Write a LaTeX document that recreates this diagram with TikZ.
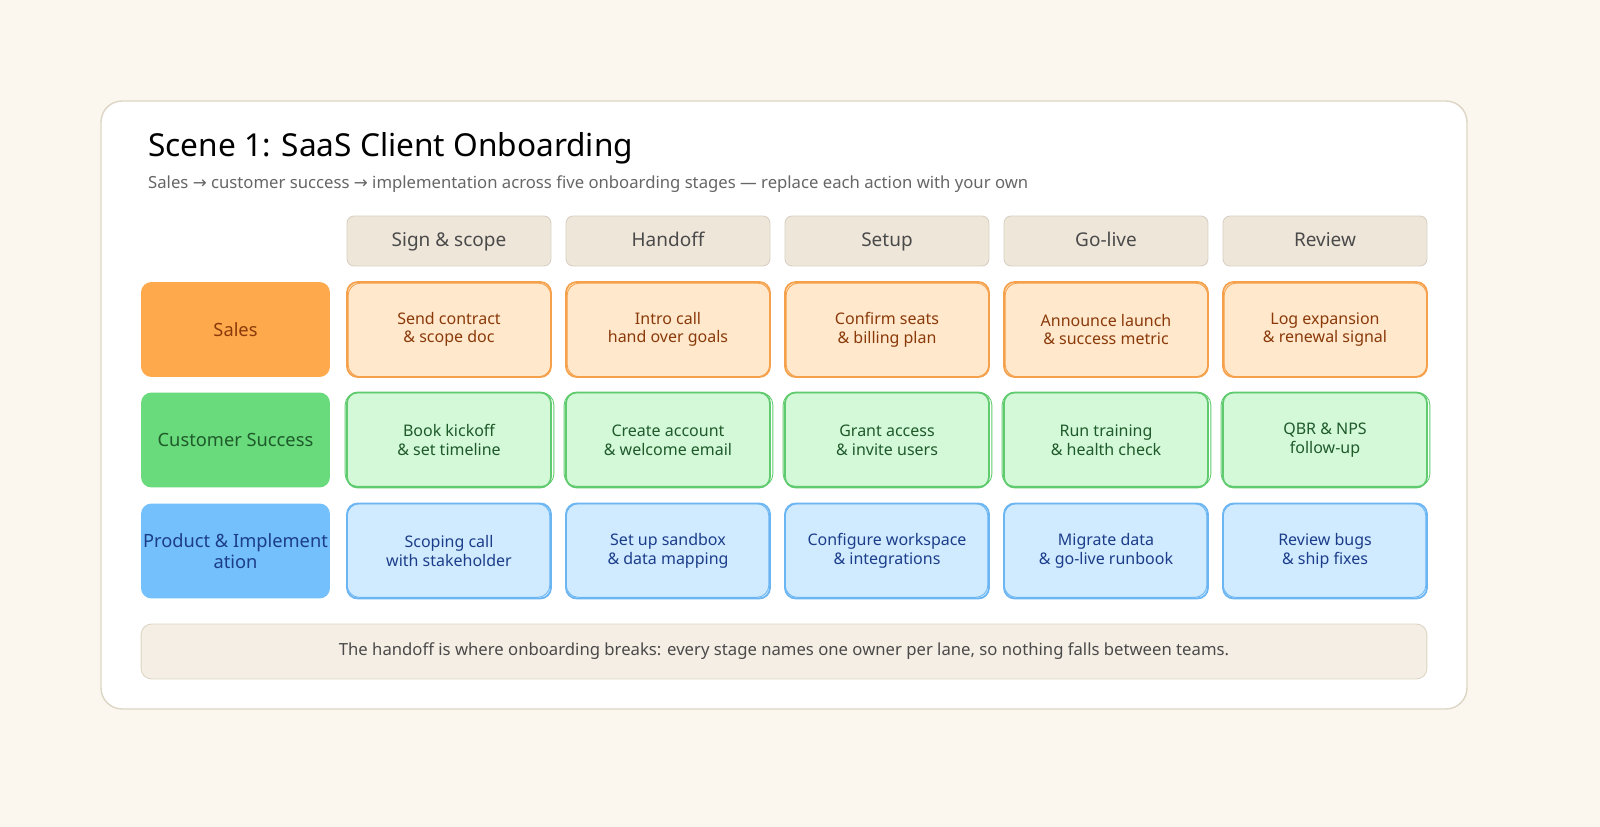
\documentclass[tikz,border=0pt]{standalone}
\usepackage{fontspec}
\setmainfont{Noto Sans}
\newfontfamily\arrowfont{DejaVu Sans}
\usetikzlibrary{positioning}
\definecolor{pagebg}{HTML}{FBF7EF}
\definecolor{cardline}{HTML}{DDD5C5}
\definecolor{headfill}{HTML}{EFE6DA}
\definecolor{headline}{HTML}{D8D0C3}
\definecolor{headtext}{HTML}{4A4A4A}
\definecolor{footfill}{HTML}{F5EEE4}
\definecolor{salesdark}{HTML}{FFA94D}
\definecolor{salesfill}{HTML}{FFE8CC}
\definecolor{salesline}{HTML}{F5A04A}
\definecolor{salestext}{HTML}{8A3A0A}
\definecolor{csdark}{HTML}{69DB7C}
\definecolor{csfill}{HTML}{D3F9D8}
\definecolor{csline}{HTML}{5FCB6E}
\definecolor{cstext}{HTML}{1F5A2A}
\definecolor{piddark}{HTML}{74C0FC}
\definecolor{pidfill}{HTML}{D0EBFF}
\definecolor{pidline}{HTML}{6BB5F2}
\definecolor{pidtext}{HTML}{1C3D8A}
\tikzset{
  lane/.style={rounded corners=6pt, minimum width=3.78cm, minimum height=1.9cm, inner sep=0pt, align=center, font=\fontsize{10.4}{12}\selectfont},
  head/.style={rounded corners=4pt, fill=headfill, draw=headline, line width=0.5pt, minimum width=4.08cm, minimum height=1cm, text height=1.6ex, text depth=0.4ex, text=headtext, font=\fontsize{10.8}{12}\selectfont},
  cell/.style={rounded corners=6pt, line width=1pt, minimum width=4.08cm, minimum height=1.9cm, align=center, font=\fontsize{9.1}{10.6}\selectfont}
}
\begin{document}
\begin{tikzpicture}[x=0.02cm,y=-0.02cm]
\fill[pagebg] (0,0) rectangle (1600,827);
\useasboundingbox (0,0) rectangle (1600,827);
\draw[cardline, fill=white, line width=0.8pt, rounded corners=12pt] (101,101) rectangle (1467,709);
\node[anchor=west, font=\fontsize{18}{20}\selectfont] (title) at (142,148) {Scene 1: SaaS Client Onboarding};
\node[anchor=west, text=black!60, font=\fontsize{9.5}{11}\selectfont] (subtitle) at (142,184) {Sales {\arrowfont →} customer success {\arrowfont →} implementation across five onboarding stages — replace each action with your own};
% stage headers
\foreach \s [count=\i] in {Sign \& scope, Handoff, Setup, Go-live, Review}
  \node[head] (h\i) at (449+219*\i-219,241) {\s};
% lanes
\node[lane, fill=salesdark, text=salestext] (sales) at (235.5,329.5) {Sales};
\node[lane, fill=csdark, text=cstext] (cs) at (235.5,440) {Customer Success};
\node[lane, fill=piddark, text=pidtext] (pid) at (235.5,551) {Product \& Implement\\ation};
% action cells
\foreach \t [count=\i] in {Send contract\\\& scope doc, Intro call\\hand over goals, Confirm seats\\\& billing plan, Announce launch\\\& success metric, Log expansion\\\& renewal signal}{
  \node[cell, fill=salesfill, draw=salesline, text=salestext] (s\i) at (449+219*\i-219,329.5) {\t};
  \draw[salesline, line width=0.5pt, rounded corners=7pt] ([shift={(2,-1)}]s\i.south west) rectangle ([shift={(-1,2)}]s\i.north east);}
\foreach \t [count=\i] in {Book kickoff\\\& set timeline, Create account\\\& welcome email, Grant access\\\& invite users, Run training\\\& health check, QBR \& NPS\\follow-up}{
  \node[cell, fill=csfill, draw=csline, text=cstext] (c\i) at (449+219*\i-219,440) {\t};
  \draw[csline, line width=0.5pt, rounded corners=7pt] ([shift={(-1,-2)}]c\i.south west) rectangle ([shift={(2,1)}]c\i.north east);}
\foreach \t [count=\i] in {Scoping call\\with stakeholder, Set up sandbox\\\& data mapping, Configure workspace\\\& integrations, Migrate data\\\& go-live runbook, Review bugs\\\& ship fixes}{
  \node[cell, fill=pidfill, draw=pidline, text=pidtext] (p\i) at (449+219*\i-219,551) {\t};
  \draw[pidline, line width=0.5pt, rounded corners=7pt] ([shift={(1,-2)}]p\i.south west) rectangle ([shift={(-2,1)}]p\i.north east);}
% footer note
\node[rounded corners=6pt, fill=footfill, draw=cardline, line width=0.5pt, minimum width=25.72cm, minimum height=1.1cm, text=headtext, font=\fontsize{9.5}{11}\selectfont] (note) at (784,651.5) {The handoff is where onboarding breaks: every stage names one owner per lane, so nothing falls between teams.};
\end{tikzpicture}
\end{document}
